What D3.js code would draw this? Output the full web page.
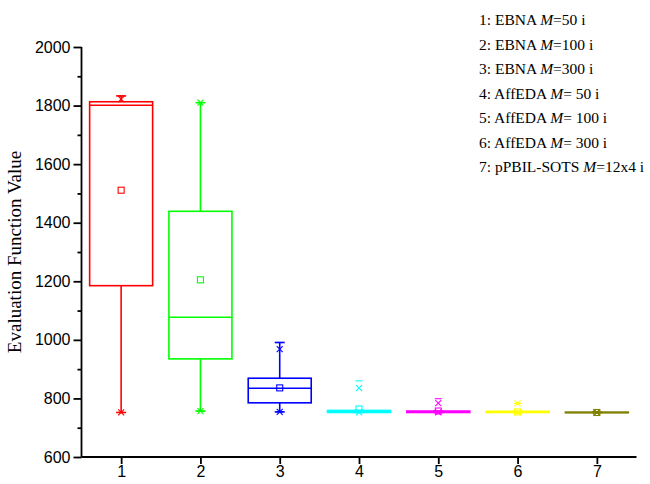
<!DOCTYPE html>
<html>
<head>
<meta charset="utf-8">
<script src="https://cdn.jsdelivr.net/npm/d3@7"></script>
<style>
  html, body { margin: 0; padding: 0; background: #fff; }
  svg { display: block; }
</style>
</head>
<body>
<svg id="chart" width="650" height="484"></svg>
<script>
// Box statistics per configuration
const categories = [1, 2, 3, 4, 5, 6, 7];
const colors    = ["#FF0000", "#00FF00", "#0000FF", "#00FFFF", "#FF00FF", "#FFFF00", "#808000"];
const whiskerLo = [752, 757, 754, 752, 752, 752, 752];
const q1        = [1185, 935, 785, 752, 752, 752, 752];
const median    = [1801, 1077, 835, 754, 754, 753, 752];
const q3        = [1813, 1439, 869, 759, 757, 756, 753];
const whiskerHi = [1833, 1810, 991, 759, 757, 756, 753];
const means     = [1511, 1205, 836, 764, 757, 754, 752];
const p1        = [752, 757, 754, 752, 752, 752, 752];
const p99       = [1822, 1810, 968, 835, 784, 783, 752];
const minVals   = [752, 757, 754, 752, 752, 752, 752];
const maxVals   = [1833, 1810, 991, 860, 799, 783, 752];
const yTicks    = [600, 700, 800, 900, 1000, 1100, 1200, 1300, 1400, 1500, 1600, 1700, 1800, 1900, 2000];
const legendLabels = [
  ["1: EBNA ", "M", "=50 i"],
  ["2: EBNA ", "M", "=100 i"],
  ["3: EBNA ", "M", "=300 i"],
  ["4: AffEDA ", "M", "= 50 i"],
  ["5: AffEDA ", "M", "= 100 i"],
  ["6: AffEDA ", "M", "= 300 i"],
  ["7: pPBIL-SOTS ", "M", "=12x4 i"]
];

const svg = d3.select("#chart");
const x = d3.scaleLinear().domain([0.5, 7.5]).range([81.5, 636.5]);
const y = d3.scaleLinear().domain([600, 2000]).range([457, 47]);
const boxW = 63;

// Axes: major ticks labelled every 200, minor ticks between
const yMajor = d3.axisLeft(y).tickValues(yTicks.filter(d => d % 200 === 0)).tickSize(8).tickPadding(3).tickFormat(d3.format("d"));
const yMinor = d3.axisLeft(y).tickValues(yTicks.filter(d => d % 200 !== 0)).tickSize(4).tickFormat("");
const xAxis  = d3.axisBottom(x).tickValues(categories).tickSize(7).tickPadding(2).tickFormat(d3.format("d"));

function styleAxis(g) {
  g.select(".domain").attr("stroke", "#000").attr("stroke-width", 1.8);
  g.selectAll(".tick line").attr("stroke", "#000").attr("stroke-width", 1.8);
  g.selectAll("text").attr("fill", "#000").style("font-family", "'Liberation Sans', Arial, sans-serif").style("font-size", "16px");
}

svg.append("g").attr("transform", "translate(81.5,0)").call(yMinor).call(styleAxis).select(".domain").remove();
svg.append("g").attr("transform", "translate(81.5,0)").call(yMajor).call(styleAxis)
  .select(".domain").attr("d", `M0,${y(2000)}V457`);
svg.append("g").attr("transform", "translate(0,457)").call(xAxis).call(styleAxis)
  .select(".domain").attr("d", "M81.5,0H636.5");

// Y axis title
svg.append("text")
  .attr("transform", `translate(21,252) rotate(-90)`)
  .attr("text-anchor", "middle")
  .style("font-family", "'Liberation Serif', 'Times New Roman', serif")
  .style("font-size", "19px")
  .text("Evaluation Function Value");

// Boxes
const boxes = svg.append("g");
categories.forEach((c, i) => {
  const g = boxes.append("g").attr("stroke", colors[i]).attr("fill", "none").attr("stroke-width", 1.6);
  const cx = x(c);
  // whiskers
  g.append("line").attr("x1", cx).attr("x2", cx).attr("y1", y(q3[i])).attr("y2", y(whiskerHi[i]));
  g.append("line").attr("x1", cx).attr("x2", cx).attr("y1", y(q1[i])).attr("y2", y(whiskerLo[i]));
  g.append("line").attr("x1", cx - 5).attr("x2", cx + 5).attr("y1", y(whiskerHi[i])).attr("y2", y(whiskerHi[i]));
  g.append("line").attr("x1", cx - 5).attr("x2", cx + 5).attr("y1", y(whiskerLo[i])).attr("y2", y(whiskerLo[i]));
  // box and median
  g.append("rect").attr("x", cx - boxW / 2).attr("width", boxW)
    .attr("y", y(q3[i])).attr("height", Math.max(0.5, y(q1[i]) - y(q3[i])));
  g.append("line").attr("x1", cx - boxW / 2).attr("x2", cx + boxW / 2).attr("y1", y(median[i])).attr("y2", y(median[i]));
  // mean marker
  g.append("rect").attr("x", cx - 3).attr("y", y(means[i]) - 3).attr("width", 6).attr("height", 6).attr("stroke-width", 1.1);
  // 1% / 99% crosses
  [p1[i], p99[i]].forEach(v => {
    const yy = y(v);
    g.append("path").attr("stroke-width", 1.1)
      .attr("d", `M${cx - 3},${yy - 3}L${cx + 3},${yy + 3}M${cx - 3},${yy + 3}L${cx + 3},${yy - 3}`);
  });
  // min / max dashes
  [minVals[i], maxVals[i]].forEach(v => {
    g.append("line").attr("stroke-width", 1.1).attr("x1", cx - 3.5).attr("x2", cx + 3.5).attr("y1", y(v)).attr("y2", y(v));
  });
});

// Legend
const legend = svg.append("g")
  .style("font-family", "'Liberation Serif', 'Times New Roman', serif")
  .style("font-size", "15.5px");
legendLabels.forEach((parts, i) => {
  const t = legend.append("text").attr("x", 479).attr("y", 25 + i * 24.5);
  t.append("tspan").text(parts[0]);
  t.append("tspan").style("font-style", "italic").text(parts[1]);
  t.append("tspan").text(parts[2]);
});
</script>
</body>
</html>
